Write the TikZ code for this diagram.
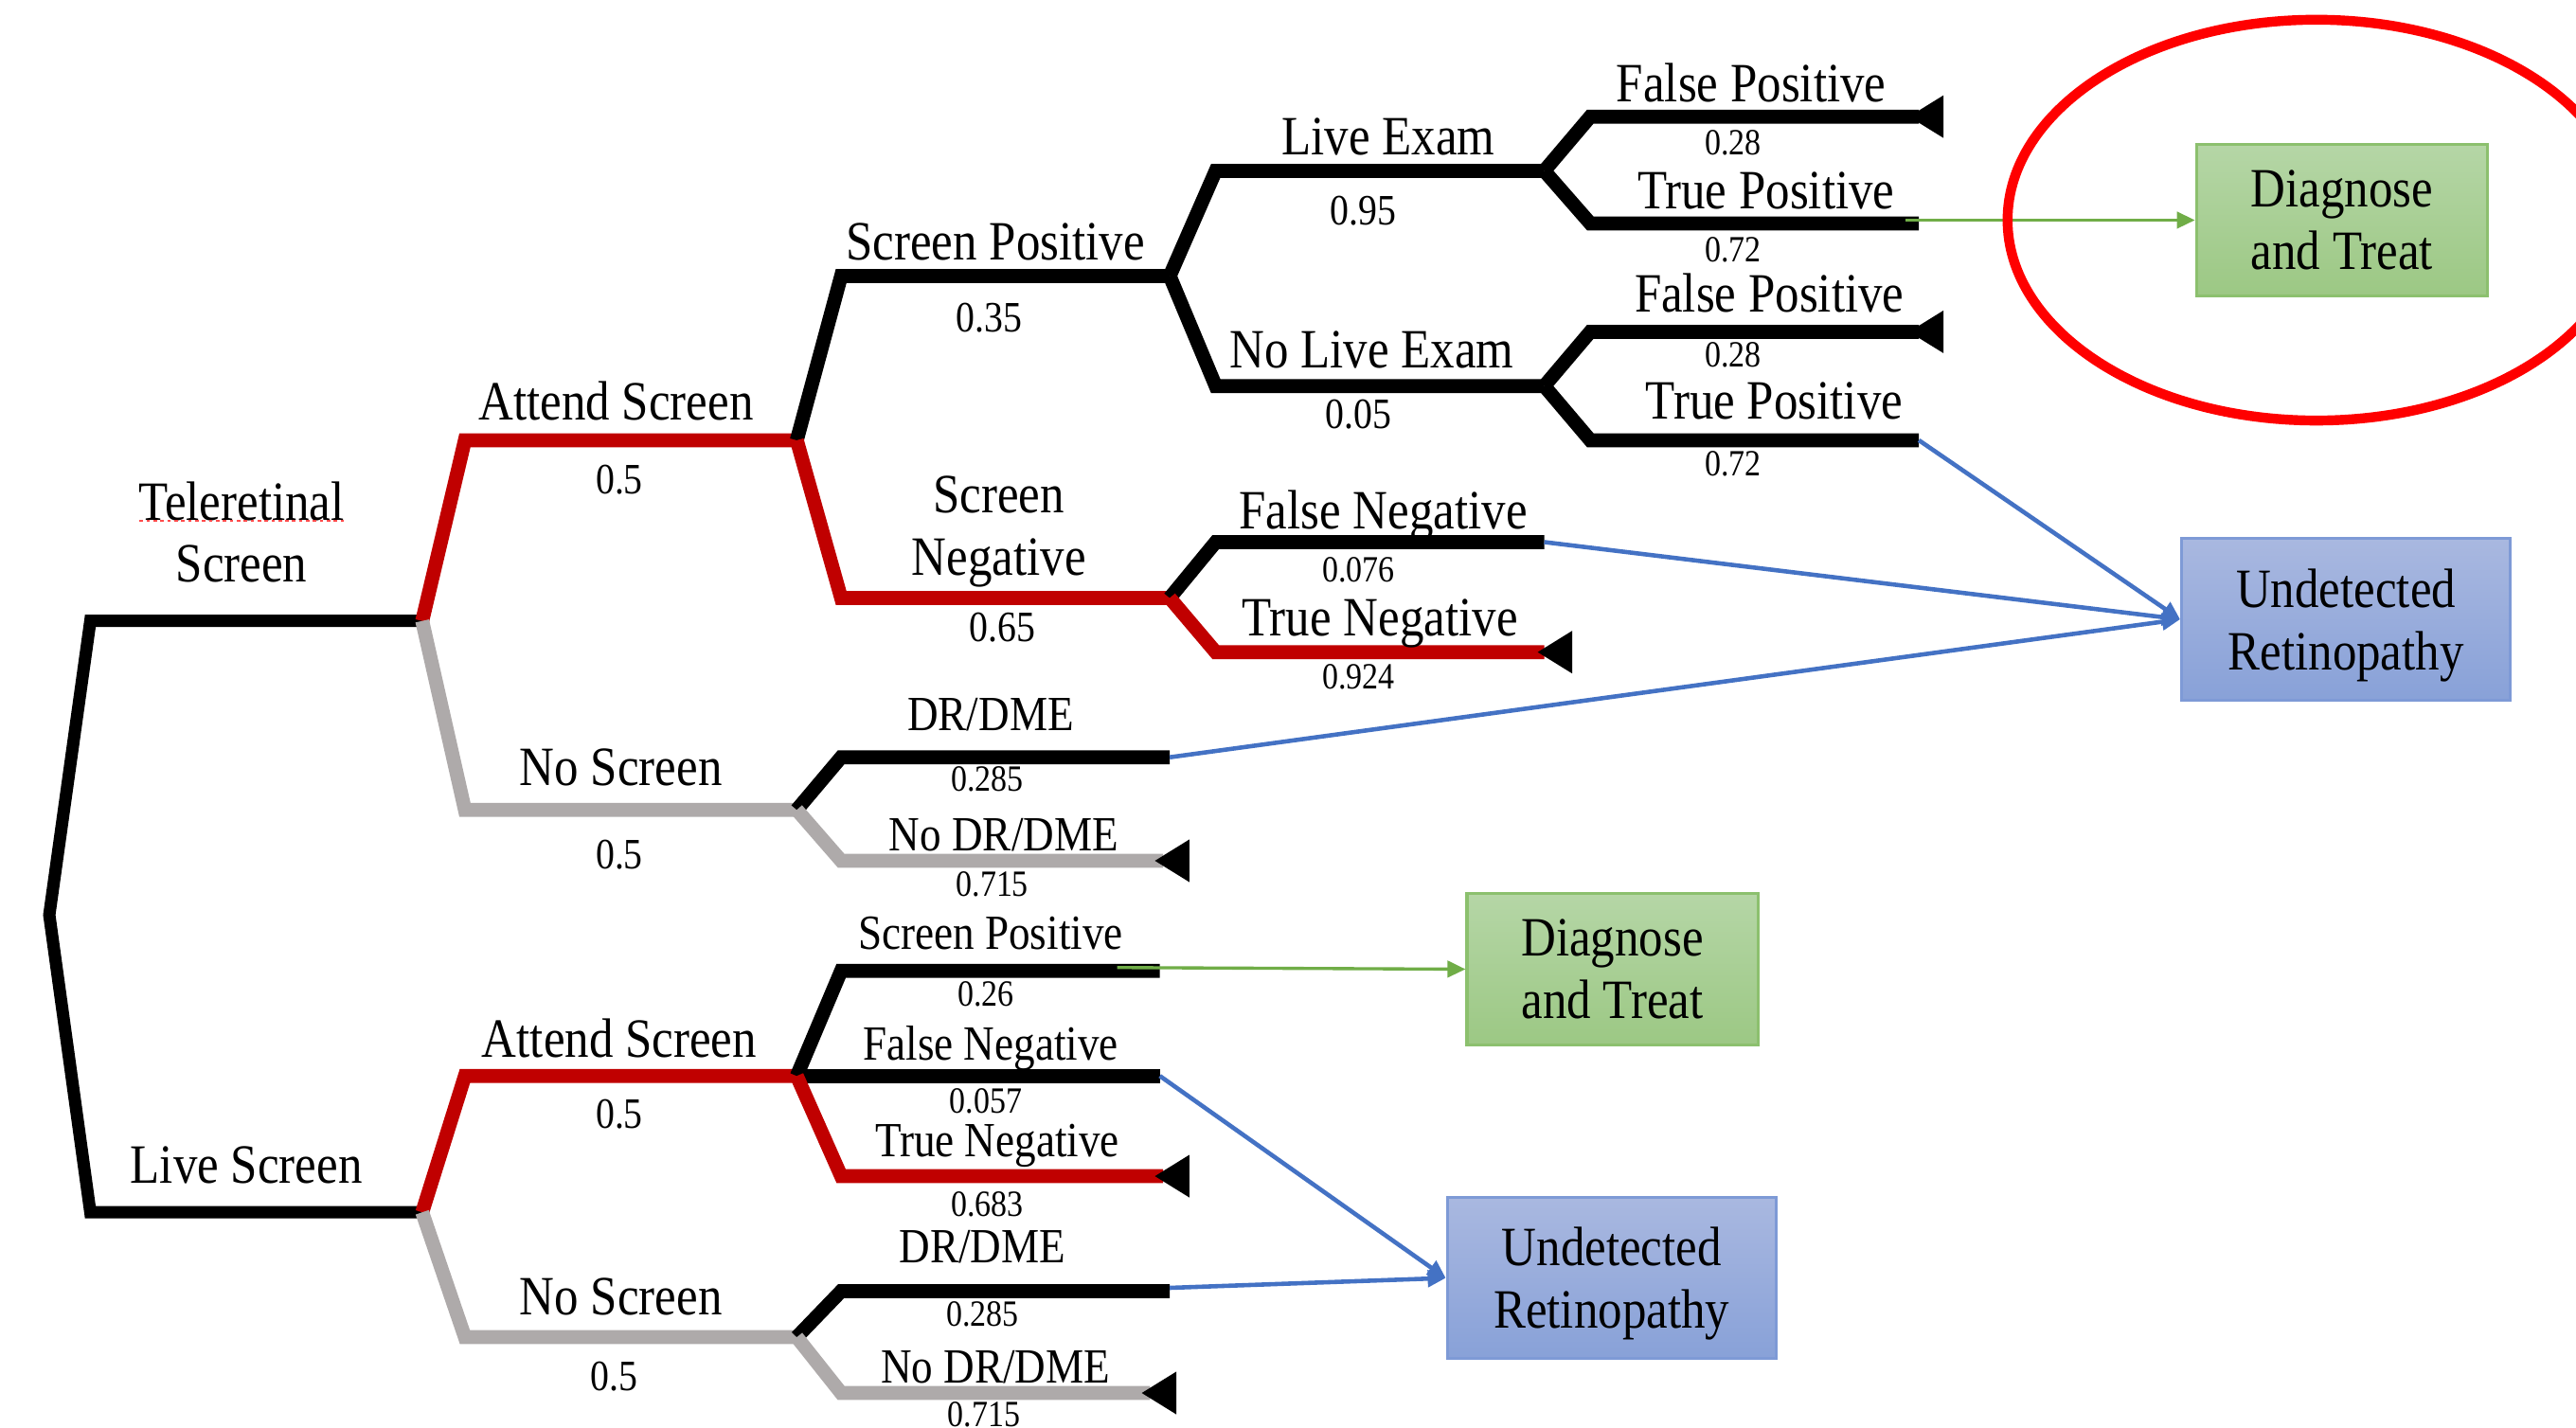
\documentclass[tikz,border=0pt]{standalone}
\usepackage{fontspec}
\setmainfont[FakeStretch=0.87]{Liberation Serif}
\usepackage{tikz}
\usetikzlibrary{calc,arrows.meta}

\definecolor{brred}{HTML}{C00000}
\definecolor{brgray}{HTML}{AEAAAA}
\definecolor{okgreen}{HTML}{70AD47}
\definecolor{treattop}{HTML}{B5D6A6}
\definecolor{treatbot}{HTML}{9CC884}
\definecolor{treatline}{HTML}{8CC06E}
\definecolor{misblue}{HTML}{4472C4}
\definecolor{misstop}{HTML}{A9B8E0}
\definecolor{missbot}{HTML}{88A1D8}
\definecolor{missline}{HTML}{7E9AD6}
\definecolor{ringred}{HTML}{FF0000}

\tikzset{
	br/.style={line width=0.085cm},
	lbl/.style={inner sep=0pt, text depth=0pt, font=\fontsize{9.6}{10.8}\selectfont},
	lblm/.style={inner sep=0pt, text depth=0pt, font=\fontsize{8.5}{10}\selectfont},
	prb/.style={inner sep=0pt, text depth=0pt, font=\fontsize{7.5}{9}\selectfont},
	prbs/.style={inner sep=0pt, text depth=0pt, font=\fontsize{6.4}{8}\selectfont},
	treatbox/.style={draw=treatline, line width=0.5pt, top color=treattop, bottom color=treatbot, align=center, minimum width=1.77cm, minimum height=0.92cm, font=\fontsize{9.6}{10.8}\selectfont},
	missbox/.style={draw=missline, line width=0.5pt, top color=misstop, bottom color=missbot, align=center, text depth=0pt, minimum width=2cm, minimum height=0.99cm, font=\fontsize{9.6}{10.8}\selectfont},
	goarrow/.style={okgreen, line width=0.55pt, -{Triangle[length=1.1mm,width=1mm]}},
	missarrow/.style={misblue, line width=0.75pt, -{Triangle[length=1.1mm,width=1mm]}}
}
% terminal triangle at the end of a branch
\newcommand{\leaftri}[1]{\fill #1 ++(-6,0) -- ++(21,-13) -- ++(0,26) -- cycle;}

\begin{document}
\begin{tikzpicture}[x=0.01cm, y=-0.01cm]
	\useasboundingbox (0,0) rectangle (1568,869);
	
	%junctions
	\coordinate (tele) at (257,378);
	\coordinate (live) at (257,738);
	\coordinate (att1) at (485,268);
	\coordinate (nos1) at (485,493);
	\coordinate (spos1) at (712,168);
	\coordinate (sneg1) at (712,364);
	\coordinate (lex) at (940,104);
	\coordinate (nlex) at (940,235);
	\coordinate (att2) at (485,655);
	\coordinate (nos2) at (485,814);
	
	%branch ends with outcomes
	\coordinate (tp1) at (1168,136);
	\coordinate (tp2) at (1168,268);
	\coordinate (fn1) at (940,330);
	\coordinate (dr1) at (712,461);
	\coordinate (sp2) at (706,591);
	\coordinate (fn2) at (706,655);
	\coordinate (dr2) at (712,786);
	
	%root
	\draw[br, line width=0.075cm] (tele) -- (55,378) -- (30,557) -- (55,738) -- (live);
	
	%teleretinal screen
	\draw[br, brred] (tele) -- (283,268) -- (att1);
	\draw[br, brgray] (tele) -- (283,493) -- (nos1);
	\draw[br] (att1) -- (512,168) -- (spos1);
	\draw[br, brred] (att1) -- (512,364) -- (sneg1);
	\draw[br] (spos1) -- (740,104) -- (lex);
	\draw[br] (spos1) -- (740,235) -- (nlex);
	\draw[br] (lex) -- (968,71) -- (1168,71);
	\draw[br] (lex) -- (968,136) -- (tp1);
	\draw[br] (nlex) -- (968,202) -- (1168,202);
	\draw[br] (nlex) -- (968,268) -- (tp2);
	\draw[br] (sneg1) -- (740,330) -- (fn1);
	\draw[br, brred] (sneg1) -- (740,397) -- (940,397);
	\draw[br] (nos1) -- (512,461) -- (dr1);
	\draw[br, brgray] (nos1) -- (512,524) -- (708,524);
	
	%live screen
	\draw[br, brred] (live) -- (283,655) -- (att2);
	\draw[br, brgray] (live) -- (283,814) -- (nos2);
	\draw[br] (att2) -- (512,591) -- (sp2);
	\draw[br] (att2) -- (fn2);
	\draw[br, brred] (att2) -- (512,716) -- (708,716);
	\draw[br] (nos2) -- (512,786) -- (dr2);
	\draw[br, brgray] (nos2) -- (512,848) -- (700,848);
	
	%terminals
	\leaftri{(1168,71)}
	\leaftri{(1168,202)}
	\leaftri{(942,397)}
	\leaftri{(709,524)}
	\leaftri{(709,716)}
	\leaftri{(701,848)}
	
	%labels
	\node[lbl] (lTele) at (147,305) {Teleretinal};
	\node[lbl] (lTeleB) at (147,343) {Screen};
	\draw[ringred!70, line width=0.35pt, dash pattern=on 0.6pt off 0.6pt] (85,317) -- (209,317);
	\node[lbl] (lLive) at (150,709) {Live Screen};
	%
	\node[lbl] (lAtt1) at (375,244) {Attend Screen};
	\node[prb] (pAtt1) at (377,292) {0.5};
	\node[lbl] (lNos1) at (378,467) {No Screen};
	\node[prb] (pNos1) at (377,520) {0.5};
	\node[lbl] (lSpos1) at (606,147) {Screen Positive};
	\node[prb] (pSpos1) at (602,193) {0.35};
	\node[lbl] (lSneg1) at (608,301) {Screen};
	\node[lbl] (lSneg1b) at (608,339) {Negative};
	\node[prb] (pSneg1) at (610,382) {0.65};
	\node[lbl] (lLex) at (845,83) {Live Exam};
	\node[prb] (pLex) at (830,128) {0.95};
	\node[lbl] (lNlex) at (835,213) {No Live Exam};
	\node[prb] (pNlex) at (827,252) {0.05};
	\node[lbl] (lFp1) at (1066,50) {False Positive};
	\node[prbs] (pFp1) at (1055,87) {0.28};
	\node[lbl] (lTp1) at (1075,116) {True Positive};
	\node[prbs] (pTp1) at (1055,152) {0.72};
	\node[lbl] (lFp2) at (1077,178) {False Positive};
	\node[prbs] (pFp2) at (1055,216) {0.28};
	\node[lbl] (lTp2) at (1080,244) {True Positive};
	\node[prbs] (pTp2) at (1055,282) {0.72};
	\node[lbl] (lFn1) at (842,310) {False Negative};
	\node[prbs] (pFn1) at (827,347) {0.076};
	\node[lbl] (lTn1) at (840,376) {True Negative};
	\node[prbs] (pTn1) at (827,412) {0.924};
	\node[lblm] (lDr1) at (603,435) {DR/DME};
	\node[prbs] (pDr1) at (601,474) {0.285};
	\node[lblm] (lNdr1) at (611,508) {No DR/DME};
	\node[prbs] (pNdr1) at (604,538) {0.715};
	%
	\node[lbl] (lAtt2) at (377,632) {Attend Screen};
	\node[prb] (pAtt2) at (377,678) {0.5};
	\node[lbl] (lNos2) at (378,789) {No Screen};
	\node[prb] (pNos2) at (374,838) {0.5};
	\node[lblm] (lSp2) at (603,568) {Screen Positive};
	\node[prbs] (pSp2) at (600,605) {0.26};
	\node[lblm] (lFn2) at (603,635) {False Negative};
	\node[prbs] (pFn2) at (600,670) {0.057};
	\node[lblm] (lTn2) at (607,694) {True Negative};
	\node[prbs] (pTn2) at (601,733) {0.683};
	\node[lblm] (lDr2) at (598,759) {DR/DME};
	\node[prbs] (pDr2) at (598,800) {0.285};
	\node[lblm] (lNdr2) at (606,832) {No DR/DME};
	\node[prbs] (pNdr2) at (599,861) {0.715};
	
	%outcome boxes
	\node[treatbox] (treat1) at (1425.5,134) {Diagnose\\and Treat};
	\node[missbox] (miss1) at (1428,377) {Undetected\\Retinopathy};
	\node[treatbox] (treat2) at (981.5,590) {Diagnose\\and Treat};
	\node[missbox, minimum height=0.98cm] (miss2) at (981,778) {Undetected\\Retinopathy};
	
	%arrows
	\draw[goarrow] ($(tp1)+(-8,-2)$) -- (treat1.west);
	\draw[goarrow] ($(sp2)+(-26,-2)$) -- (treat2.west);
	\draw[missarrow] (tp2) -- (miss1.west);
	\draw[missarrow] (fn1) -- (miss1.west);
	\draw[missarrow] (dr1) -- (miss1.west);
	\draw[missarrow] (fn2) -- (miss2.west);
	\draw[missarrow] ($(dr2)+(0,-2)$) -- (miss2.west);
	
	%ring
	\begin{scope}
		\clip (0,0) rectangle (1568,869);
		\draw[ringred, line width=0.06cm] (1410,134) ellipse [x radius=188, y radius=122];
	\end{scope}
\end{tikzpicture}
\end{document}
